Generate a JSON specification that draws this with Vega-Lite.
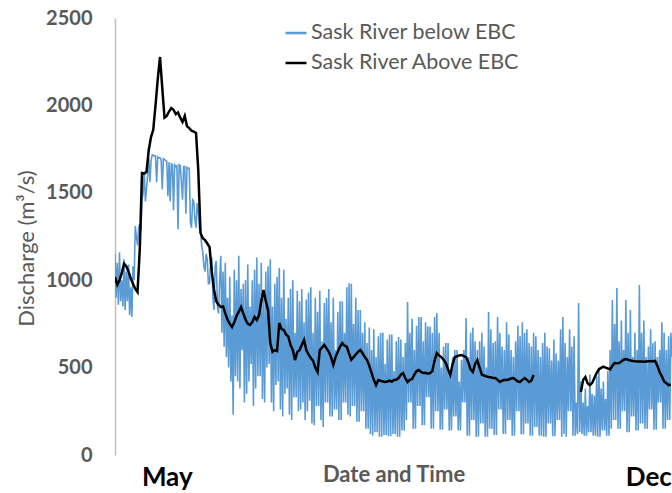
{
  "$schema": "https://vega.github.io/schema/vega-lite/v6.json",
  "width": 557,
  "height": 437,
  "autosize": "none",
  "padding": {"left": 115, "top": 18, "right": 0, "bottom": 38},
  "background": "white",
  "config": {
    "view": {"stroke": null},
    "font": "Lato",
    "axisY": {
      "grid": false,
      "ticks": false,
      "tickSize": 0,
      "domainColor": "#BFBFBF",
      "domainWidth": 1.5,
      "labelFont": "Lato",
      "labelFontSize": 20,
      "labelFontWeight": "bold",
      "labelColor": "#595959",
      "labelPadding": 23,
      "titleFont": "Lato",
      "titleFontSize": 22,
      "titleFontWeight": "normal",
      "titleColor": "#595959",
      "titleAngle": -90,
      "titleBaseline": "alphabetic",
      "titleX": -82,
      "titleY": 230
    },
    "axisX": {
      "grid": false,
      "ticks": false,
      "tickSize": 0,
      "domain": false,
      "labelFont": "Lato",
      "labelFontSize": 26,
      "labelFontWeight": "bold",
      "labelColor": "#000000",
      "labelBaseline": "alphabetic",
      "labelPadding": 30,
      "labelFlush": false,
      "labelOverlap": false,
      "titleFont": "Lato",
      "titleFontSize": 22,
      "titleFontWeight": "bold",
      "titleColor": "#595959",
      "titleBaseline": "alphabetic",
      "titleY": 26
    }
  },
  "datasets": {
    "below": [
      {"day": 98, "q": 1150}, {"day": 98.5, "q": 900},
      {"day": 99, "q": 1100}, {"day": 99.5, "q": 860},
      {"day": 100, "q": 1160}, {"day": 100.5, "q": 880},
      {"day": 101, "q": 1000}, {"day": 101.5, "q": 850},
      {"day": 102, "q": 1120}, {"day": 102.5, "q": 830},
      {"day": 103, "q": 1050}, {"day": 103.5, "q": 880},
      {"day": 104, "q": 1090}, {"day": 104.5, "q": 800},
      {"day": 105, "q": 960}, {"day": 105.5, "q": 790},
      {"day": 106, "q": 1080}, {"day": 106.5, "q": 1000},
      {"day": 107, "q": 1310}, {"day": 107.5, "q": 1250},
      {"day": 108, "q": 1200}, {"day": 108.5, "q": 1300},
      {"day": 109, "q": 1320}, {"day": 109.5, "q": 1280},
      {"day": 110, "q": 1460}, {"day": 110.5, "q": 1500},
      {"day": 111, "q": 1620}, {"day": 111.5, "q": 1450},
      {"day": 112, "q": 1520}, {"day": 112.5, "q": 1600},
      {"day": 113, "q": 1700}, {"day": 113.5, "q": 1560},
      {"day": 114, "q": 1680}, {"day": 114.5, "q": 1716},
      {"day": 115, "q": 1716}, {"day": 115.5, "q": 1710},
      {"day": 116, "q": 1712}, {"day": 116.5, "q": 1560},
      {"day": 117, "q": 1705}, {"day": 117.5, "q": 1700},
      {"day": 118, "q": 1700}, {"day": 118.5, "q": 1690},
      {"day": 119, "q": 1520}, {"day": 119.5, "q": 1695},
      {"day": 120, "q": 1690}, {"day": 120.5, "q": 1685},
      {"day": 121, "q": 1680}, {"day": 121.5, "q": 1480},
      {"day": 122, "q": 1675}, {"day": 122.5, "q": 1450},
      {"day": 123, "q": 1665}, {"day": 123.5, "q": 1660},
      {"day": 124, "q": 1400}, {"day": 124.5, "q": 1660},
      {"day": 125, "q": 1650}, {"day": 125.5, "q": 1655},
      {"day": 126, "q": 1290}, {"day": 126.5, "q": 1660},
      {"day": 127, "q": 1655}, {"day": 127.5, "q": 1560},
      {"day": 128, "q": 1460}, {"day": 128.5, "q": 1650},
      {"day": 129, "q": 1650}, {"day": 129.5, "q": 1380},
      {"day": 130, "q": 1645}, {"day": 130.5, "q": 1640},
      {"day": 131, "q": 1640}, {"day": 131.5, "q": 1330},
      {"day": 132, "q": 1300}, {"day": 132.5, "q": 1460},
      {"day": 133, "q": 1450}, {"day": 133.5, "q": 1350},
      {"day": 134, "q": 1300}, {"day": 134.5, "q": 1440},
      {"day": 135, "q": 1400}, {"day": 135.5, "q": 1300},
      {"day": 136, "q": 1280}, {"day": 136.5, "q": 1200},
      {"day": 137, "q": 1160}, {"day": 137.5, "q": 1080},
      {"day": 138, "q": 1050}, {"day": 138.5, "q": 1150},
      {"day": 139, "q": 1120}, {"day": 139.5, "q": 980},
      {"day": 140, "q": 980}, {"day": 140.5, "q": 1100},
      {"day": 141, "q": 1130}, {"day": 141.5, "q": 900},
      {"day": 142, "q": 830}, {"day": 142.5, "q": 1080},
      {"day": 143, "q": 1110}, {"day": 143.5, "q": 850},
      {"day": 144, "q": 810}, {"day": 144.5, "q": 1000},
      {"day": 145, "q": 1140}, {"day": 145.5, "q": 700},
      {"day": 146, "q": 1050}, {"day": 146.5, "q": 620},
      {"day": 147, "q": 1100}, {"day": 147.5, "q": 560},
      {"day": 148, "q": 900}, {"day": 148.5, "q": 500},
      {"day": 149, "q": 1020}, {"day": 149.5, "q": 420},
      {"day": 150, "q": 800}, {"day": 150.5, "q": 230},
      {"day": 151, "q": 1060}, {"day": 151.5, "q": 450},
      {"day": 152, "q": 1000}, {"day": 152.5, "q": 420},
      {"day": 153, "q": 1140}, {"day": 153.5, "q": 380},
      {"day": 154, "q": 950}, {"day": 154.5, "q": 600},
      {"day": 155, "q": 980}, {"day": 155.5, "q": 300},
      {"day": 156, "q": 1000}, {"day": 156.5, "q": 350},
      {"day": 157, "q": 1090}, {"day": 157.5, "q": 420},
      {"day": 158, "q": 850}, {"day": 158.5, "q": 520},
      {"day": 159, "q": 1000}, {"day": 159.5, "q": 280},
      {"day": 160, "q": 1060}, {"day": 160.5, "q": 380},
      {"day": 161, "q": 1130}, {"day": 161.5, "q": 450},
      {"day": 162, "q": 980}, {"day": 162.5, "q": 450},
      {"day": 163, "q": 1100}, {"day": 163.5, "q": 320},
      {"day": 164, "q": 900}, {"day": 164.5, "q": 300},
      {"day": 165, "q": 1050}, {"day": 165.5, "q": 500},
      {"day": 166, "q": 1080}, {"day": 166.5, "q": 520},
      {"day": 167, "q": 1120}, {"day": 167.5, "q": 300},
      {"day": 168, "q": 850}, {"day": 168.5, "q": 250},
      {"day": 169, "q": 980}, {"day": 169.5, "q": 400},
      {"day": 170, "q": 1020}, {"day": 170.5, "q": 420},
      {"day": 171, "q": 1070}, {"day": 171.5, "q": 260},
      {"day": 172, "q": 900}, {"day": 172.5, "q": 220},
      {"day": 173, "q": 1060}, {"day": 173.5, "q": 350},
      {"day": 174, "q": 780}, {"day": 174.5, "q": 380},
      {"day": 175, "q": 900}, {"day": 175.5, "q": 230},
      {"day": 176, "q": 950}, {"day": 176.5, "q": 200},
      {"day": 177, "q": 1000}, {"day": 177.5, "q": 330},
      {"day": 178, "q": 700}, {"day": 178.5, "q": 330},
      {"day": 179, "q": 940}, {"day": 179.5, "q": 250},
      {"day": 180, "q": 880}, {"day": 180.5, "q": 260},
      {"day": 181, "q": 950}, {"day": 181.5, "q": 300},
      {"day": 182, "q": 760}, {"day": 182.5, "q": 200},
      {"day": 183, "q": 890}, {"day": 183.5, "q": 250},
      {"day": 184, "q": 930}, {"day": 184.5, "q": 310},
      {"day": 185, "q": 960}, {"day": 185.5, "q": 180},
      {"day": 186, "q": 700}, {"day": 186.5, "q": 170},
      {"day": 187, "q": 900}, {"day": 187.5, "q": 280},
      {"day": 188, "q": 820}, {"day": 188.5, "q": 280},
      {"day": 189, "q": 940}, {"day": 189.5, "q": 200},
      {"day": 190, "q": 650}, {"day": 190.5, "q": 160},
      {"day": 191, "q": 870}, {"day": 191.5, "q": 300},
      {"day": 192, "q": 900}, {"day": 192.5, "q": 300},
      {"day": 193, "q": 950}, {"day": 193.5, "q": 220},
      {"day": 194, "q": 760}, {"day": 194.5, "q": 220},
      {"day": 195, "q": 900}, {"day": 195.5, "q": 260},
      {"day": 196, "q": 600}, {"day": 196.5, "q": 260},
      {"day": 197, "q": 820}, {"day": 197.5, "q": 200},
      {"day": 198, "q": 880}, {"day": 198.5, "q": 200},
      {"day": 199, "q": 880}, {"day": 199.5, "q": 300},
      {"day": 200, "q": 700}, {"day": 200.5, "q": 300},
      {"day": 201, "q": 960}, {"day": 201.5, "q": 230},
      {"day": 202, "q": 983}, {"day": 202.5, "q": 220},
      {"day": 203, "q": 980}, {"day": 203.5, "q": 280},
      {"day": 204, "q": 750}, {"day": 204.5, "q": 280},
      {"day": 205, "q": 900}, {"day": 205.5, "q": 190},
      {"day": 206, "q": 830}, {"day": 206.5, "q": 190},
      {"day": 207, "q": 830}, {"day": 207.5, "q": 250},
      {"day": 208, "q": 700}, {"day": 208.5, "q": 250},
      {"day": 209, "q": 760}, {"day": 209.5, "q": 150},
      {"day": 210, "q": 640}, {"day": 210.5, "q": 150},
      {"day": 211, "q": 730}, {"day": 211.5, "q": 120},
      {"day": 212, "q": 600}, {"day": 212.5, "q": 110},
      {"day": 213, "q": 720}, {"day": 213.5, "q": 130},
      {"day": 214, "q": 560}, {"day": 214.5, "q": 130},
      {"day": 215, "q": 680}, {"day": 215.5, "q": 105},
      {"day": 216, "q": 700}, {"day": 216.5, "q": 105},
      {"day": 217, "q": 700}, {"day": 217.5, "q": 115},
      {"day": 218, "q": 520}, {"day": 218.5, "q": 115},
      {"day": 219, "q": 660}, {"day": 219.5, "q": 108},
      {"day": 220, "q": 690}, {"day": 220.5, "q": 108},
      {"day": 221, "q": 690}, {"day": 221.5, "q": 120},
      {"day": 222, "q": 480}, {"day": 222.5, "q": 120},
      {"day": 223, "q": 650}, {"day": 223.5, "q": 104},
      {"day": 224, "q": 675}, {"day": 224.5, "q": 104},
      {"day": 225, "q": 660}, {"day": 225.5, "q": 140},
      {"day": 226, "q": 560}, {"day": 226.5, "q": 140},
      {"day": 227, "q": 640}, {"day": 227.5, "q": 200},
      {"day": 228, "q": 875}, {"day": 228.5, "q": 300},
      {"day": 229, "q": 700}, {"day": 229.5, "q": 300},
      {"day": 230, "q": 780}, {"day": 230.5, "q": 150},
      {"day": 231, "q": 600}, {"day": 231.5, "q": 150},
      {"day": 232, "q": 740}, {"day": 232.5, "q": 280},
      {"day": 233, "q": 790}, {"day": 233.5, "q": 280},
      {"day": 234, "q": 790}, {"day": 234.5, "q": 170},
      {"day": 235, "q": 650}, {"day": 235.5, "q": 170},
      {"day": 236, "q": 760}, {"day": 236.5, "q": 330},
      {"day": 237, "q": 735}, {"day": 237.5, "q": 330},
      {"day": 238, "q": 735}, {"day": 238.5, "q": 150},
      {"day": 239, "q": 700}, {"day": 239.5, "q": 150},
      {"day": 240, "q": 790}, {"day": 240.5, "q": 250},
      {"day": 241, "q": 812}, {"day": 241.5, "q": 250},
      {"day": 242, "q": 700}, {"day": 242.5, "q": 145},
      {"day": 243, "q": 500}, {"day": 243.5, "q": 145},
      {"day": 244, "q": 620}, {"day": 244.5, "q": 260},
      {"day": 245, "q": 640}, {"day": 245.5, "q": 260},
      {"day": 246, "q": 640}, {"day": 246.5, "q": 140},
      {"day": 247, "q": 480}, {"day": 247.5, "q": 140},
      {"day": 248, "q": 560}, {"day": 248.5, "q": 220},
      {"day": 249, "q": 600}, {"day": 249.5, "q": 220},
      {"day": 250, "q": 600}, {"day": 250.5, "q": 140},
      {"day": 251, "q": 420}, {"day": 251.5, "q": 140},
      {"day": 252, "q": 545}, {"day": 252.5, "q": 300},
      {"day": 253, "q": 600}, {"day": 253.5, "q": 300},
      {"day": 254, "q": 783}, {"day": 254.5, "q": 110},
      {"day": 255, "q": 560}, {"day": 255.5, "q": 110},
      {"day": 256, "q": 700}, {"day": 256.5, "q": 200},
      {"day": 257, "q": 730}, {"day": 257.5, "q": 200},
      {"day": 258, "q": 650}, {"day": 258.5, "q": 105},
      {"day": 259, "q": 600}, {"day": 259.5, "q": 105},
      {"day": 260, "q": 650}, {"day": 260.5, "q": 180},
      {"day": 261, "q": 700}, {"day": 261.5, "q": 180},
      {"day": 262, "q": 620}, {"day": 262.5, "q": 104},
      {"day": 263, "q": 500}, {"day": 263.5, "q": 104},
      {"day": 264, "q": 818}, {"day": 264.5, "q": 150},
      {"day": 265, "q": 720}, {"day": 265.5, "q": 150},
      {"day": 266, "q": 640}, {"day": 266.5, "q": 115},
      {"day": 267, "q": 650}, {"day": 267.5, "q": 115},
      {"day": 268, "q": 790}, {"day": 268.5, "q": 260},
      {"day": 269, "q": 700}, {"day": 269.5, "q": 260},
      {"day": 270, "q": 620}, {"day": 270.5, "q": 120},
      {"day": 271, "q": 600}, {"day": 271.5, "q": 120},
      {"day": 272, "q": 760}, {"day": 272.5, "q": 200},
      {"day": 273, "q": 690}, {"day": 273.5, "q": 200},
      {"day": 274, "q": 600}, {"day": 274.5, "q": 110},
      {"day": 275, "q": 560}, {"day": 275.5, "q": 110},
      {"day": 276, "q": 650}, {"day": 276.5, "q": 250},
      {"day": 277, "q": 740}, {"day": 277.5, "q": 250},
      {"day": 278, "q": 680}, {"day": 278.5, "q": 118},
      {"day": 279, "q": 760}, {"day": 279.5, "q": 118},
      {"day": 280, "q": 700}, {"day": 280.5, "q": 180},
      {"day": 281, "q": 720}, {"day": 281.5, "q": 180},
      {"day": 282, "q": 640}, {"day": 282.5, "q": 110},
      {"day": 283, "q": 620}, {"day": 283.5, "q": 110},
      {"day": 284, "q": 700}, {"day": 284.5, "q": 160},
      {"day": 285, "q": 680}, {"day": 285.5, "q": 160},
      {"day": 286, "q": 600}, {"day": 286.5, "q": 110},
      {"day": 287, "q": 560}, {"day": 287.5, "q": 110},
      {"day": 288, "q": 640}, {"day": 288.5, "q": 105},
      {"day": 289, "q": 700}, {"day": 289.5, "q": 105},
      {"day": 290, "q": 620}, {"day": 290.5, "q": 180},
      {"day": 291, "q": 610}, {"day": 291.5, "q": 180},
      {"day": 292, "q": 540}, {"day": 292.5, "q": 108},
      {"day": 293, "q": 660}, {"day": 293.5, "q": 108},
      {"day": 294, "q": 580}, {"day": 294.5, "q": 200},
      {"day": 295, "q": 540}, {"day": 295.5, "q": 200},
      {"day": 296, "q": 720}, {"day": 296.5, "q": 104},
      {"day": 297, "q": 790}, {"day": 297.5, "q": 120},
      {"day": 298, "q": 640}, {"day": 298.5, "q": 104},
      {"day": 299, "q": 560}, {"day": 299.5, "q": 250},
      {"day": 300, "q": 720}, {"day": 300.5, "q": 250},
      {"day": 301, "q": 620}, {"day": 301.5, "q": 110},
      {"day": 302, "q": 680}, {"day": 302.5, "q": 110},
      {"day": 303, "q": 300}, {"day": 303.5, "q": 120},
      {"day": 304, "q": 870}, {"day": 304.5, "q": 130},
      {"day": 305, "q": 420}, {"day": 305.5, "q": 120},
      {"day": 306, "q": 300}, {"day": 306.5, "q": 110},
      {"day": 307, "q": 380}, {"day": 307.5, "q": 110},
      {"day": 308, "q": 280}, {"day": 308.5, "q": 130},
      {"day": 309, "q": 460}, {"day": 309.5, "q": 130},
      {"day": 310, "q": 350}, {"day": 310.5, "q": 110},
      {"day": 311, "q": 340}, {"day": 311.5, "q": 110},
      {"day": 312, "q": 450}, {"day": 312.5, "q": 105},
      {"day": 313, "q": 500}, {"day": 313.5, "q": 105},
      {"day": 314, "q": 380}, {"day": 314.5, "q": 140},
      {"day": 315, "q": 420}, {"day": 315.5, "q": 140},
      {"day": 316, "q": 320}, {"day": 316.5, "q": 110},
      {"day": 317, "q": 480}, {"day": 317.5, "q": 110},
      {"day": 318, "q": 600}, {"day": 318.5, "q": 150},
      {"day": 319, "q": 886}, {"day": 319.5, "q": 200},
      {"day": 320, "q": 750}, {"day": 320.5, "q": 200},
      {"day": 321, "q": 955}, {"day": 321.5, "q": 150},
      {"day": 322, "q": 650}, {"day": 322.5, "q": 150},
      {"day": 323, "q": 770}, {"day": 323.5, "q": 250},
      {"day": 324, "q": 600}, {"day": 324.5, "q": 250},
      {"day": 325, "q": 886}, {"day": 325.5, "q": 130},
      {"day": 326, "q": 700}, {"day": 326.5, "q": 130},
      {"day": 327, "q": 830}, {"day": 327.5, "q": 220},
      {"day": 328, "q": 560}, {"day": 328.5, "q": 220},
      {"day": 329, "q": 700}, {"day": 329.5, "q": 140},
      {"day": 330, "q": 600}, {"day": 330.5, "q": 140},
      {"day": 331, "q": 972}, {"day": 331.5, "q": 180},
      {"day": 332, "q": 700}, {"day": 332.5, "q": 180},
      {"day": 333, "q": 770}, {"day": 333.5, "q": 150},
      {"day": 334, "q": 560}, {"day": 334.5, "q": 150},
      {"day": 335, "q": 620}, {"day": 335.5, "q": 260},
      {"day": 336, "q": 720}, {"day": 336.5, "q": 260},
      {"day": 337, "q": 640}, {"day": 337.5, "q": 145},
      {"day": 338, "q": 650}, {"day": 338.5, "q": 145},
      {"day": 339, "q": 560}, {"day": 339.5, "q": 300},
      {"day": 340, "q": 600}, {"day": 340.5, "q": 300},
      {"day": 341, "q": 760}, {"day": 341.5, "q": 150},
      {"day": 342, "q": 700}, {"day": 342.5, "q": 150},
      {"day": 343, "q": 600}, {"day": 343.5, "q": 200},
      {"day": 344, "q": 680}, {"day": 344.5, "q": 200},
      {"day": 345, "q": 700}, {"day": 345.5, "q": 560}
    ],
    "above": [
      {"day": 98, "q": 1018}, {"day": 99, "q": 975}, {"day": 100, "q": 1000}, {"day": 101, "q": 1040},
      {"day": 102, "q": 1095}, {"day": 103, "q": 1080}, {"day": 104, "q": 1050}, {"day": 105, "q": 1010},
      {"day": 106, "q": 980}, {"day": 107, "q": 950}, {"day": 108, "q": 932}, {"day": 109, "q": 1172},
      {"day": 110, "q": 1613}, {"day": 111, "q": 1610}, {"day": 112, "q": 1620}, {"day": 113, "q": 1745},
      {"day": 114, "q": 1819}, {"day": 115, "q": 1860}, {"day": 116, "q": 2000}, {"day": 117, "q": 2150},
      {"day": 118, "q": 2277}, {"day": 119, "q": 2100}, {"day": 120, "q": 1930}, {"day": 121, "q": 1940},
      {"day": 122, "q": 1965}, {"day": 123, "q": 1985}, {"day": 124, "q": 1975}, {"day": 125, "q": 1950},
      {"day": 126, "q": 1960}, {"day": 127, "q": 1930}, {"day": 128, "q": 1905}, {"day": 129, "q": 1940},
      {"day": 130, "q": 1880}, {"day": 131, "q": 1870}, {"day": 132, "q": 1855}, {"day": 133, "q": 1850},
      {"day": 134, "q": 1842}, {"day": 135, "q": 1630}, {"day": 136, "q": 1270}, {"day": 137, "q": 1240},
      {"day": 138, "q": 1230}, {"day": 139, "q": 1210}, {"day": 140, "q": 1190}, {"day": 141, "q": 1050},
      {"day": 142, "q": 944}, {"day": 143, "q": 880}, {"day": 144, "q": 860}, {"day": 145, "q": 847},
      {"day": 146, "q": 850}, {"day": 147, "q": 810}, {"day": 148, "q": 775}, {"day": 149, "q": 750},
      {"day": 150, "q": 732}, {"day": 151, "q": 760}, {"day": 152, "q": 795}, {"day": 153, "q": 820},
      {"day": 154, "q": 847}, {"day": 155, "q": 810}, {"day": 156, "q": 775}, {"day": 157, "q": 750},
      {"day": 158, "q": 744}, {"day": 159, "q": 760}, {"day": 160, "q": 790}, {"day": 161, "q": 772},
      {"day": 162, "q": 800}, {"day": 163, "q": 880}, {"day": 164, "q": 944}, {"day": 165, "q": 880},
      {"day": 166, "q": 829}, {"day": 167, "q": 640}, {"day": 168, "q": 590}, {"day": 169, "q": 600},
      {"day": 170, "q": 595}, {"day": 171, "q": 755}, {"day": 172, "q": 720}, {"day": 173, "q": 715},
      {"day": 174, "q": 690}, {"day": 175, "q": 677}, {"day": 176, "q": 630}, {"day": 177, "q": 600},
      {"day": 178, "q": 543}, {"day": 179, "q": 590}, {"day": 180, "q": 600}, {"day": 181, "q": 630},
      {"day": 182, "q": 658}, {"day": 183, "q": 600}, {"day": 184, "q": 575}, {"day": 185, "q": 555},
      {"day": 186, "q": 540}, {"day": 187, "q": 500}, {"day": 188, "q": 475}, {"day": 189, "q": 600},
      {"day": 190, "q": 615}, {"day": 191, "q": 630}, {"day": 192, "q": 610}, {"day": 193, "q": 590},
      {"day": 194, "q": 560}, {"day": 195, "q": 515}, {"day": 196, "q": 560}, {"day": 197, "q": 590},
      {"day": 198, "q": 620}, {"day": 199, "q": 640}, {"day": 200, "q": 625}, {"day": 201, "q": 620},
      {"day": 202, "q": 580}, {"day": 203, "q": 545}, {"day": 204, "q": 560}, {"day": 205, "q": 575},
      {"day": 206, "q": 590}, {"day": 207, "q": 600}, {"day": 208, "q": 582}, {"day": 209, "q": 560},
      {"day": 210, "q": 543}, {"day": 211, "q": 510}, {"day": 212, "q": 470}, {"day": 213, "q": 430},
      {"day": 214, "q": 400}, {"day": 215, "q": 429}, {"day": 216, "q": 425}, {"day": 217, "q": 420},
      {"day": 218, "q": 418}, {"day": 219, "q": 420}, {"day": 220, "q": 425}, {"day": 221, "q": 420},
      {"day": 222, "q": 429}, {"day": 223, "q": 430}, {"day": 224, "q": 440}, {"day": 225, "q": 460},
      {"day": 226, "q": 469}, {"day": 227, "q": 440}, {"day": 228, "q": 418}, {"day": 229, "q": 430},
      {"day": 230, "q": 435}, {"day": 231, "q": 460}, {"day": 232, "q": 480}, {"day": 233, "q": 486},
      {"day": 234, "q": 475}, {"day": 235, "q": 469}, {"day": 236, "q": 470}, {"day": 237, "q": 465},
      {"day": 238, "q": 469}, {"day": 239, "q": 480}, {"day": 240, "q": 540}, {"day": 241, "q": 583},
      {"day": 242, "q": 570}, {"day": 243, "q": 560}, {"day": 244, "q": 545}, {"day": 245, "q": 526},
      {"day": 246, "q": 490}, {"day": 247, "q": 458}, {"day": 248, "q": 520}, {"day": 249, "q": 560},
      {"day": 250, "q": 565}, {"day": 251, "q": 570}, {"day": 252, "q": 572}, {"day": 253, "q": 565},
      {"day": 254, "q": 560}, {"day": 255, "q": 530}, {"day": 256, "q": 490}, {"day": 257, "q": 475},
      {"day": 258, "q": 520}, {"day": 259, "q": 543}, {"day": 260, "q": 500}, {"day": 261, "q": 460},
      {"day": 262, "q": 455}, {"day": 263, "q": 450}, {"day": 264, "q": 446}, {"day": 265, "q": 445},
      {"day": 266, "q": 440}, {"day": 267, "q": 440}, {"day": 268, "q": 430}, {"day": 269, "q": 418},
      {"day": 270, "q": 425}, {"day": 271, "q": 430}, {"day": 272, "q": 429}, {"day": 273, "q": 432},
      {"day": 274, "q": 438}, {"day": 275, "q": 440}, {"day": 276, "q": 430}, {"day": 277, "q": 420},
      {"day": 278, "q": 418}, {"day": 279, "q": 430}, {"day": 280, "q": 440}, {"day": 281, "q": 430},
      {"day": 282, "q": 418}, {"day": 283, "q": 425}, {"day": 284, "q": 458},
      {"day": 294, "q": null},
      {"day": 305, "q": 360}, {"day": 306, "q": 429}, {"day": 307, "q": 446}, {"day": 308, "q": 410},
      {"day": 309, "q": 400}, {"day": 310, "q": 412}, {"day": 311, "q": 440}, {"day": 312, "q": 469},
      {"day": 313, "q": 490}, {"day": 314, "q": 498}, {"day": 315, "q": 505}, {"day": 316, "q": 500},
      {"day": 317, "q": 495}, {"day": 318, "q": 490}, {"day": 319, "q": 510}, {"day": 320, "q": 526},
      {"day": 321, "q": 525}, {"day": 322, "q": 526}, {"day": 323, "q": 535}, {"day": 324, "q": 545},
      {"day": 325, "q": 549}, {"day": 326, "q": 545}, {"day": 327, "q": 540}, {"day": 328, "q": 538},
      {"day": 329, "q": 536}, {"day": 330, "q": 535}, {"day": 331, "q": 535}, {"day": 332, "q": 535},
      {"day": 333, "q": 534}, {"day": 334, "q": 535}, {"day": 335, "q": 536}, {"day": 336, "q": 537},
      {"day": 337, "q": 536}, {"day": 338, "q": 538}, {"day": 339, "q": 510}, {"day": 340, "q": 475},
      {"day": 341, "q": 450}, {"day": 342, "q": 420}, {"day": 343, "q": 410}, {"day": 344, "q": 400},
      {"day": 345, "q": 402}
    ]
  },
  "encoding": {
    "x": {
      "field": "day",
      "type": "quantitative",
      "title": "Date and Time",
      "scale": {"domain": [98, 345.5], "nice": false, "zero": false},
      "axis": {
        "values": [121, 335],
        "labelExpr": "datum.value == 121 ? 'May' : 'Dec'"
      }
    }
  },
  "layer": [
    {
      "data": {"name": "below"},
      "mark": {"type": "line", "strokeWidth": 1.6, "clip": true},
      "encoding": {
        "y": {
          "field": "q",
          "type": "quantitative",
          "title": "Discharge (m³/s)",
          "scale": {"domain": [0, 2500], "nice": false, "zero": true},
          "axis": {"values": [0, 500, 1000, 1500, 2000, 2500], "format": "d"}
        },
        "color": {
          "datum": "Sask River below EBC",
          "scale": {
            "domain": ["Sask River below EBC", "Sask River Above EBC"],
            "range": ["#5B9BD5", "#000000"]
          },
          "legend": {
            "orient": "none",
            "legendX": 169,
            "legendY": 3,
            "title": null,
            "padding": 0,
            "symbolType": "stroke",
            "symbolSize": 441,
            "symbolStrokeWidth": 2.5,
            "labelFont": "Lato",
            "labelFontSize": 21.5,
            "labelColor": "#595959",
            "labelOffset": 3,
            "labelLimit": 400,
            "rowPadding": 7
          }
        }
      }
    },
    {
      "data": {"name": "above"},
      "mark": {"type": "line", "strokeWidth": 2.5, "clip": true, "invalid": "break-paths-show-domains"},
      "encoding": {
        "y": {"field": "q", "type": "quantitative", "title": "Discharge (m³/s)"},
        "color": {"datum": "Sask River Above EBC"}
      }
    }
  ]
}
